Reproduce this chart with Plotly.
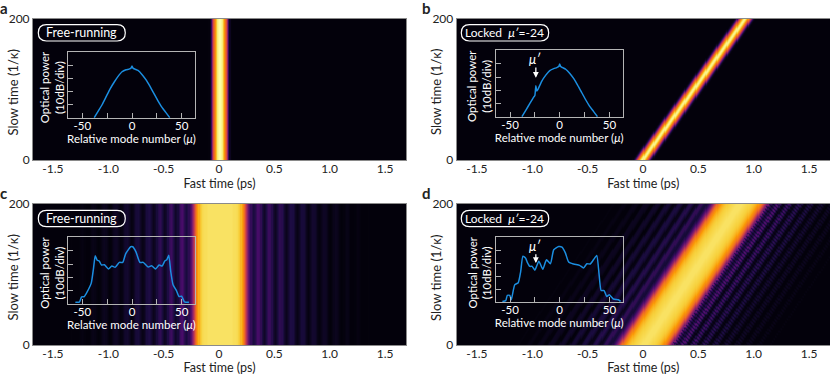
import numpy as np
import plotly.graph_objects as go

W, H = 830, 375
FONT = "Lato"

# ---- Fast-time intensity cross-sections (|t| in ps, normalised intensity) ----
a_t = [0, .01, .02, .03, .04, .05, .06, .07, .08, .09, .10, .12]
a_z = [1.0, .98, .95, .86, .76, .68, .60, .42, .18, .05, .015, 0]
b_t = [0, .01, .02, .03, .04, .05, .06, .07, .08, .09, .10, .12]
b_z = [.98, .95, .87, .76, .66, .55, .38, .20, .08, .03, .012, 0]

c_t = [round(i * 0.02, 2) for i in range(85)]
c_z = [.93, .93, .93, .93, .93, .93, .92, .92, .91, .87, .78, .66, .46, .27, .16, .10, .14,
       .22, .20, .10, .06, .12, .19, .17, .08, .05, .10, .16, .14, .07, .04, .08, .12, .11,
       .05, .03, .06, .10, .09, .04, .02, .05, .08, .07, .03, .02, .04, .06, .05, .02, .01,
       .03, .05, .04, .02, .01, .02, .035, .03, .01, .005, .015, .025, .02, .01, .003, .01,
       .015, .012, .005, .002, .006, .009, .007, .003, .001, .003, .005, .004, .002, .001,
       .002, .003, .002, .001]

d_t = [round(i * 0.02, 2) for i in range(60)]
d_z_right = [.93, .93, .92, .91, .90, .89, .87, .84, .80, .74, .68, .55, .38, .25, .14, .08, .12,
             .20, .18, .06, .03, .10, .17, .13, .04, .03, .09, .13, .10, .03, .02, .07, .10, .07,
             .02, .02, .05, .07, .05, .02, .01, .04, .05, .04, .01, .01, .03, .04, .03, .01,
             .005, .02, .03, .02, .005, .005, .01, .02, .01, .005]
d_z_left = [.93, .93, .92, .91, .90, .89, .87, .84, .80, .74, .68, .55, .38, .25, .15, .09, .10,
            .16, .16, .07, .04, .09, .14, .12, .04, .03, .08, .11, .10, .03, .02, .06, .09, .08,
            .02, .01, .05, .07, .06, .01, .01, .04, .05, .05, .01, .005, .03, .04, .03, .005,
            .003, .02, .03, .02, .003, .002, .01, .02, .01, .002]
# Slow-time beat seen as a dotted texture on the tail of panel d
d_beat = [1.3, 1.05, 0.65, 0.95]

# Pulse position: centre at slow time 0 and total walk-off over 200 slow-time units (ps)
start_a, start_b, start_c, start_d = 0.01, 0.0, 0.012, 0.015
drift_a, drift_b, drift_c, drift_d = 0.0, 0.92, 0.0, 0.86
fast_axis_ticks = [-1.5, -1.0, -0.5, 0, 0.5, 1.0, 1.5]
fast_axis_labels = ["-1.5", "-1.0", "-0.5", "0", "0.5", "1.0", "1.5"]
slow_ticks = [0, 200]

# ---- Inset spectra: relative mode number, optical power (dB) ----
a_mu = [-38, -34, -30, -26, -22, -18, -14, -10, -6, -3, -1, 0, 1, 3, 6, 10, 14, 18, 22, 26, 30, 34, 38]
a_db = [-40, -35, -30, -24, -18, -13, -8.5, -5, -3.5, -3, -2.2, -0.5, -2.2, -3, -4, -7, -11, -16,
        -21.5, -27, -32, -36, -40]
b_mu = [-38, -34, -30, -26, -25, -24, -23.5, -23, -22, -18, -14, -10, -6, -3, -1, 0, 1, 3, 6, 10,
        14, 18, 22, 26, 30, 34, 38]
b_db = [-40, -35, -30, -25, -24, -16.5, -19, -20.5, -19.5, -13, -8.5, -5, -3.5, -2.8, -2, 0, -2,
        -2.8, -4, -7, -11, -16, -21.5, -27, -32, -36, -40]
c_mu = [-57, -53, -50.7, -48, -45, -41, -38.7, -37, -35, -33, -30.7, -27.7, -23.7, -20.3, -17, -12.7,
        -9.3, -6.3, -1.3, 0.7, 4, 8, 11.3, 16.3, 19.7, 23.7, 27.3, 30.3, 33, 35, 37, 39, 41.3,
        44.7, 47.3, 50, 52.7, 57.3]
c_db = [-39, -39, -35, -34.7, -31, -24.5, -13, -3.7, -7, -7.7, -10.7, -10.5, -13.7, -11.5, -12.5, -8.7,
        -8.7, -2, 3.2, 3.2, -0.7, -8.7, -8.7, -12.3, -11.2, -13.7, -10.7, -11.5, -7.7, -6.7, -3.2,
        -15.7, -25.7, -30.2, -34.7, -34.5, -38.7, -39]
d_mu = [-57.7, -54.3, -52.7, -50.3, -48.7, -45.3, -41.7, -39.3, -37, -34.3, -32.7, -30, -27.7, -25,
        -21, -17, -13.3, -9.3, -6, -1, 2.3, 5.7, 9, 14, 20, 24, 27.3, 30.7, 34, 37.3, 39.7, 41.7,
        44.7, 47.3, 50, 54, 59, 61.3]
d_db = [-39.3, -38.7, -34.7, -34.7, -38, -26.7, -25, -16.7, -4.7, -6.2, -9.2, -12.5, -12.5, -15.5,
        -8.5, -14.7, -7.5, -10.5, 0.2, 2.7, 2.2, -2.2, -9.2, -10.7, -11.7, -13.7, -10.5, -10.7,
        -7.5, -4.2, -19.2, -31, -31, -35.5, -34.2, -37.5, -38, -39.3]
inset_x_ticks = [-50, -25, 0, 25, 50]
inset_x_labels = ["-50", "", "0", "", "50"]
inset_y_ticks = [0, -10, -20, -30]

fast_grid = np.arange(-1.68, 1.6901, 0.01)
slow_grid = np.linspace(0, 200, 141)


def raster(t_right, z_right, t_left, z_left, start, drift, beat=None):
    rows = []
    for r, s in enumerate(slow_grid):
        u = fast_grid - start - drift * s / 200
        right = np.interp(u, t_right, z_right, right=0)
        left = np.interp(-u, t_left, z_left, right=0)
        row = np.where(u >= 0, right, left)
        if beat is not None:
            phase = np.take(beat, (r + np.arange(len(u))) % len(beat))
            row = np.where((u > 0.24) & (row < 0.3), row * phase, row)
        rows.append(np.maximum(row, 0.012))
    return np.array(rows).round(4)


fig = go.Figure()
layout = {}


def dom(x0, x1, y0, y1):
    return [x0 / W, x1 / W], [1 - y1 / H, 1 - y0 / H]


GRAY = "#8a8a8a"
INK = "#222222"
FRAME = "#b4b4b4"
panels = [
    dict(z=raster(a_t, a_z, a_t, a_z, start_a, drift_a), box=(33, 406, 19, 160), x0=219,
         inset=(68, 195, 52, 118), yr=[-40.3, 10.1], irange=[-64.4, 63.4], mu=a_mu, db=a_db),
    dict(z=raster(b_t, b_z, b_t, b_z, start_b, drift_b), box=(456.7, 830, 19, 160), x0=643,
         inset=(495.7, 622.7, 50.3, 117), yr=[-40.3, 10.4], irange=[-64.4, 63.4], mu=b_mu, db=b_db),
    dict(z=raster(c_t, c_z, c_t, c_z, start_c, drift_c), box=(33, 406, 204, 345), x0=219,
         inset=(68, 195, 237.3, 304), yr=[-40.4, 10.4], irange=[-64.4, 63.4], mu=c_mu, db=c_db),
    dict(z=raster(d_t, d_z_right, d_t, d_z_left, start_d, drift_d, d_beat), box=(456.7, 830, 204, 345), x0=643,
         inset=(495.7, 622.7, 236.7, 302.3), yr=[-40, 10.2], irange=[-64.4, 63.4], mu=d_mu, db=d_db),
]
PX_PER_PS = 110.7

for i, p in enumerate(panels):
    mx, my = 2 * i + 1, 2 * i + 2
    xd, yd = dom(*p["box"])
    xr = [(p["box"][0] - p["x0"]) / PX_PER_PS, (p["box"][1] - p["x0"]) / PX_PER_PS]
    fig.add_trace(go.Heatmap(x=fast_grid.round(3), y=slow_grid, z=p["z"], colorscale="Inferno",
                             zmin=0, zmax=1, showscale=False, hoverinfo="skip",
                             xaxis=f"x{mx}", yaxis=f"y{mx}"))
    layout[f"xaxis{mx}"] = dict(domain=xd, anchor=f"y{mx}", range=xr, tickmode="array", automargin=False,
                                tickvals=fast_axis_ticks, ticktext=fast_axis_labels,
                                ticks="", showgrid=False, zeroline=False, showline=True, mirror=True,
                                linecolor=GRAY, linewidth=1, ticklabelstandoff=-2,
                                tickfont=dict(size=12, color=INK, family=FONT),
                                title=dict(text="Fast time (ps)", standoff=0,
                                           font=dict(size=12.5, color=INK, family=FONT)))
    layout[f"yaxis{mx}"] = dict(domain=yd, anchor=f"x{mx}", range=[0, 200], tickmode="array", automargin=False,
                                tickvals=slow_ticks, ticktext=["0", "200"], ticks="", showgrid=False,
                                zeroline=False, showline=True, mirror=True, linecolor=GRAY, linewidth=1,
                                tickfont=dict(size=12, color=INK, family=FONT))
    xd, yd = dom(*p["inset"])
    fig.add_trace(go.Scatter(x=p["mu"], y=p["db"], mode="lines",
                             line=dict(color="#1b8ee0", width=1.5, shape="spline", smoothing=0.5),
                             hoverinfo="skip", showlegend=False, xaxis=f"x{my}", yaxis=f"y{my}"))
    layout[f"xaxis{my}"] = dict(domain=xd, anchor=f"y{my}", range=p["irange"], tickmode="array", automargin=False,
                                tickvals=inset_x_ticks, ticktext=inset_x_labels, ticks="inside", ticklen=5,
                                tickcolor=FRAME, showgrid=False, zeroline=False, showline=True,
                                mirror=True, linecolor=FRAME, linewidth=1.3, ticklabelstandoff=-3,
                                tickfont=dict(size=11.5, color="white", family=FONT),
                                title=dict(text="Relative mode number (<i>μ</i>)", standoff=0,
                                           font=dict(size=11.5, color="white", family=FONT)))
    layout[f"yaxis{my}"] = dict(domain=yd, anchor=f"x{my}", range=p["yr"], tickmode="array", automargin=False,
                                tickvals=inset_y_ticks, ticktext=["", "", "", ""], ticks="inside", ticklen=5,
                                tickcolor=FRAME, showgrid=False, zeroline=False, showline=True,
                                mirror=True, linecolor=FRAME, linewidth=1.3)


def pill(x0, x1, y0, y1):
    r = (y1 - y0) / 2
    X = lambda v: f"{v / W:.5f}"
    Y = lambda v: f"{1 - v / H:.5f}"
    return dict(type="path", xref="paper", yref="paper", line=dict(color="white", width=1.2),
                path=(f"M {X(x0 + r)} {Y(y0)} L {X(x1 - r)} {Y(y0)} "
                      f"Q {X(x1)} {Y(y0)} {X(x1)} {Y(y0 + r)} Q {X(x1)} {Y(y1)} {X(x1 - r)} {Y(y1)} "
                      f"L {X(x0 + r)} {Y(y1)} Q {X(x0)} {Y(y1)} {X(x0)} {Y(y0 + r)} "
                      f"Q {X(x0)} {Y(y0)} {X(x0 + r)} {Y(y0)} Z"))


def text(x, y, s, size=12, color=INK, **kw):
    return dict(x=x / W, y=1 - y / H, xref="paper", yref="paper", text=s, showarrow=False,
                xanchor="center", yanchor="middle",
                font=dict(size=size, color=color, family=FONT), **kw)


shapes = [pill(38.3, 125.3, 24.7, 41), pill(461.3, 548.7, 24.7, 41),
          pill(38.3, 125.3, 210.3, 226.7), pill(461.3, 548.7, 210.3, 226.7)]

annots = [
    text(3.5, 8, "<b>a</b>", 15), text(426.5, 8, "<b>b</b>", 15),
    text(3.5, 193, "<b>c</b>", 15), text(426.5, 193, "<b>d</b>", 15),
    text(81.8, 33, "Free-running", 12.5, "white"), text(504, 33, "Locked  <i>μ′</i>=-24", 12, "white"),
    text(81.8, 218.5, "Free-running", 12.5, "white"), text(504, 218.5, "Locked  <i>μ′</i>=-24", 12, "white"),
    text(12.5, 93, "Slow time (1/κ)", 13, textangle=-90), text(436, 92, "Slow time (1/κ)", 13, textangle=-90),
    text(12.5, 278, "Slow time (1/κ)", 13, textangle=-90), text(436, 278, "Slow time (1/κ)", 13, textangle=-90),
    text(51.8, 87.5, "Optical power<br>(10dB/div)", 11.5, "white", textangle=-90),
    text(479, 86, "Optical power<br>(10dB/div)", 11.5, "white", textangle=-90),
    text(51.8, 273, "Optical power<br>(10dB/div)", 11.5, "white", textangle=-90),
    text(479, 272.5, "Optical power<br>(10dB/div)", 11.5, "white", textangle=-90),
]
for ax_id, tail_db, head_db, label_y in ((4, -1.5, -10.5, 59), (8, -2, -10, 246)):
    annots.append(dict(x=-24, y=head_db, ax=-24, ay=tail_db, xref=f"x{ax_id}", yref=f"y{ax_id}",
                       axref=f"x{ax_id}", ayref=f"y{ax_id}", text="", showarrow=True, arrowhead=2,
                       arrowsize=0.9, arrowwidth=1.3, arrowcolor="white"))
    annots.append(text(534.5, label_y, "<i>μ′</i>", 13, "white"))

fig.update_layout(width=W, height=H, autosize=False, margin=dict(l=0, r=0, t=0, b=0),
                  paper_bgcolor="white", plot_bgcolor="rgba(0,0,0,0)", showlegend=False,
                  font=dict(family=FONT), shapes=shapes, annotations=annots, **layout)
fig.write_html("out.html", config={"displayModeBar": False}, post_script="document.body.style.margin='0';")
